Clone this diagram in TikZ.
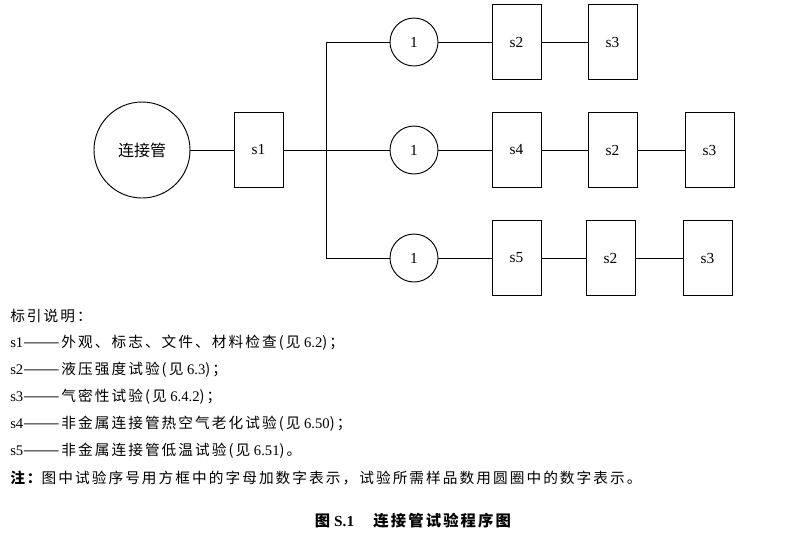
\documentclass[tikz,border=0pt]{standalone}
\usepackage{fontspec}
\setmainfont{Liberation Serif}
\newfontfamily\cjk[LetterSpace=14]{Noto Sans CJK SC}
\newfontfamily\cjkn{Noto Sans CJK SC}
\begin{document}
\begin{tikzpicture}[x=0.75pt,y=-0.75pt,
  box/.style={draw,line width=0.7pt,minimum width=36.75pt,minimum height=56.25pt,inner sep=0pt,font=\fontsize{11.5}{13}\selectfont},
  cnt/.style={draw,circle,line width=0.7pt,minimum size=36pt,inner sep=0pt,font=\fontsize{11.5}{13}\selectfont},
  ln/.style={line width=0.7pt},
  leg/.style={anchor=west,inner sep=0pt,font=\fontsize{11}{12}\selectfont}]
\useasboundingbox (0,0) rectangle (807,537);
\node[draw,circle,line width=0.7pt,minimum size=72pt,inner sep=0pt] (c0) at (142,150) {\cjkn\fontsize{12}{13}\selectfont 连接管};
\node[box] (s1) at (258.5,150) {s1};
\coordinate (t1) at (326,42);
\coordinate (t2) at (326,150);
\coordinate (t3) at (326,258);
\node[cnt] (a1) at (414,42) {1};
\node[cnt] (a2) at (414,150) {1};
\node[cnt] (a3) at (414,258) {1};
\node[box] (r1a) at (516.5,42) {s2};
\node[box] (r1b) at (612.5,42) {s3};
\node[box] (r2a) at (516.5,150) {s4};
\node[box] (r2b) at (612.5,150) {s2};
\node[box] (r2c) at (709.5,150) {s3};
\node[box] (r3a) at (516.5,258) {s5};
\node[box] (r3b) at (610.5,258) {s2};
\node[box] (r3c) at (707.5,258) {s3};
\draw[ln] (c0) -- (s1);
\draw[ln] (s1) -- (t2);
\draw[ln] (t1) -- (t3);
\draw[ln] (t1) -- (a1); \draw[ln] (a1) -- (r1a); \draw[ln] (r1a) -- (r1b);
\draw[ln] (t2) -- (a2); \draw[ln] (a2) -- (r2a); \draw[ln] (r2a) -- (r2b); \draw[ln] (r2b) -- (r2c);
\draw[ln] (t3) -- (a3); \draw[ln] (a3) -- (r3a); \draw[ln] (r3a) -- (r3b); \draw[ln] (r3b) -- (r3c);
\node[leg] (l0) at (10,316) {\cjk 标引说明：};
\node[leg] (l1) at (10,343) {s1{\cjk ———外观、标志、文件、材料检查(见} 6.2{\cjk )；}};
\node[leg] (l2) at (10,370) {s2{\cjk ———液压强度试验(见} 6.3{\cjk )；}};
\node[leg] (l3) at (10,397) {s3{\cjk ———气密性试验(见} 6.4.2{\cjk )；}};
\node[leg] (l4) at (10,424) {s4{\cjk ———非金属连接管热空气老化试验(见} 6.50{\cjk )；}};
\node[leg] (l5) at (10,451) {s5{\cjk ———非金属连接管低温试验(见} 6.51{\cjk )。}};
\node[leg] (l6) at (10,478) {{\cjk\bfseries 注：}{\cjk 图中试验序号用方框中的字母加数字表示，试验所需样品数用圆圈中的数字表示。}};
\node[inner sep=0pt,font=\fontsize{11.5}{13}\selectfont\bfseries] (cap) at (413,521) {{\cjk 图} S.1\quad\ {\cjk 连接管试验程序图}};
\end{tikzpicture}
\end{document}
